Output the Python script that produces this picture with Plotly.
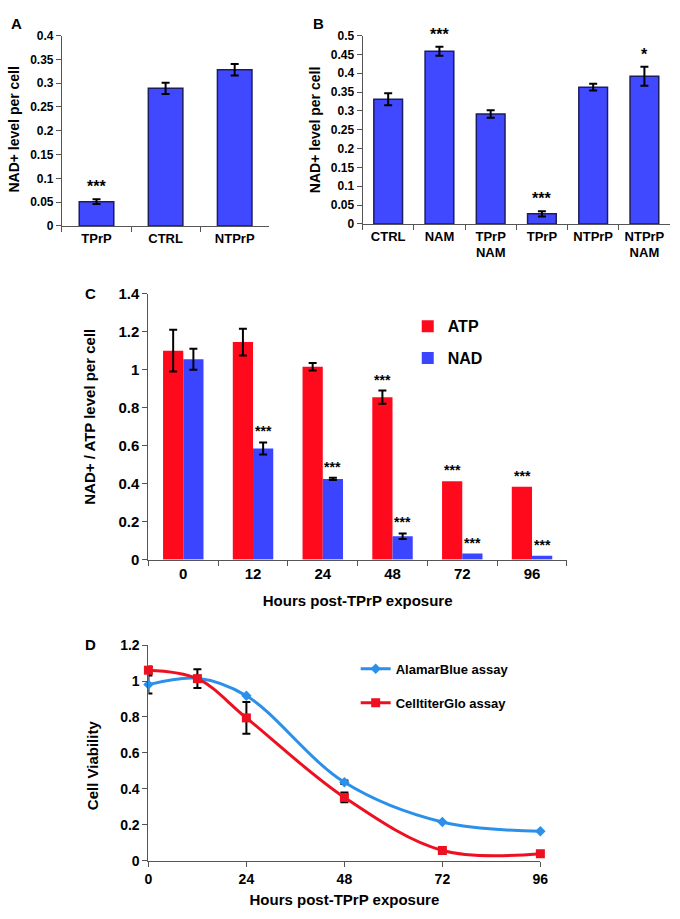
import plotly.graph_objects as go

W, H = 680, 919

# Panel A
a_cats = ["TPrP", "CTRL", "NTPrP"]
a_vals = [0.051, 0.289, 0.328]
a_errs = [0.005, 0.012, 0.012]
a_stars = ["***", "", ""]

# Panel B
b_cats = ["CTRL", "NAM", "TPrP<br>NAM", "TPrP", "NTPrP", "NTPrP<br>NAM"]
b_vals = [0.331, 0.458, 0.292, 0.027, 0.363, 0.392]
b_errs = [0.016, 0.012, 0.010, 0.007, 0.009, 0.025]
b_stars = ["", "***", "", "***", "", "*"]

# Panel C
c_cats = ["0", "12", "24", "48", "72", "96"]
c_atp = [1.10, 1.145, 1.015, 0.855, 0.413, 0.384]
c_atp_err = [0.11, 0.07, 0.02, 0.035, None, None]
c_nad = [1.055, 0.585, 0.425, 0.123, 0.032, 0.02]
c_nad_err = [0.055, 0.032, 0.006, 0.015, None, None]
c_atp_stars = ["", "", "", "***", "***", "***"]
c_nad_stars = ["", "***", "***", "***", "***", "***"]

# Panel D
d_hours = [0, 12, 24, 48, 72, 96]
d_ticks = [0, 24, 48, 72, 96]
d_alamar = [0.98, 1.015, 0.918, 0.437, 0.216, 0.165]
d_alamar_err = [0.05, None, None, 0.01, None, None]
d_ctg = [1.06, 1.013, 0.795, 0.353, 0.058, 0.04]
d_ctg_err = [0.02, 0.052, 0.088, 0.027, None, None]

FONT = "Liberation Sans, Arial, sans-serif"
BAR_BLUE = "#4049FF"
BAR_EDGE = "#1C1C60"
RED = "#FF0A1C"
BLUE_C = "#3B45FF"
LINE_BLUE = "#2A90EA"
LINE_RED = "#EC1020"
AX = "#555555"

def px_x(a, b):
    return [a / W, b / W]

def px_y(bottom, top):
    return [(H - bottom) / H, (H - top) / H]

def nz(v):
    return 0 if v is None else v

def errs(arr):
    # missing error values are left undrawn
    return ["NaN" if v is None else v for v in arr]

fig = go.Figure()

err_style = dict(type="data", color="black", thickness=2, width=4, visible=True)

# A
fig.add_trace(go.Bar(x=a_cats, y=a_vals, error_y=dict(array=a_errs, **err_style),
                     marker=dict(color=BAR_BLUE, line=dict(color=BAR_EDGE, width=1.5)),
                     width=0.5, xaxis="x", yaxis="y", showlegend=False))
# B
fig.add_trace(go.Bar(x=b_cats, y=b_vals, error_y=dict(array=b_errs, **err_style),
                     marker=dict(color=BAR_BLUE, line=dict(color=BAR_EDGE, width=1.5)),
                     width=0.56, xaxis="x2", yaxis="y2", showlegend=False))
# C
fig.add_trace(go.Bar(x=c_cats, y=c_atp, name="ATP",
                     error_y=dict(array=errs(c_atp_err), **err_style),
                     marker=dict(color=RED, line=dict(width=0)),
                     xaxis="x3", yaxis="y3", legend="legend", legendgroup="atp"))
fig.add_trace(go.Bar(x=c_cats, y=c_nad, name="NAD",
                     error_y=dict(array=errs(c_nad_err), **err_style),
                     marker=dict(color=BLUE_C, line=dict(width=0)),
                     xaxis="x3", yaxis="y3", legend="legend", legendgroup="nad"))
# D
fig.add_trace(go.Scatter(x=d_hours, y=d_alamar, name="AlamarBlue assay", mode="lines+markers",
                         line=dict(color=LINE_BLUE, width=3, shape="spline", smoothing=1),
                         marker=dict(symbol="diamond", size=8, color=LINE_BLUE),
                         error_y=dict(array=errs(d_alamar_err), color="black", thickness=2, width=4),
                         cliponaxis=False, xaxis="x4", yaxis="y4", legend="legend2",
                         legendgroup="ab"))
fig.add_trace(go.Scatter(x=d_hours, y=d_ctg, name="CelltiterGlo assay", mode="lines+markers",
                         line=dict(color=LINE_RED, width=3, shape="spline", smoothing=1),
                         marker=dict(symbol="square", size=9, color=LINE_RED),
                         error_y=dict(array=errs(d_ctg_err), color="black", thickness=2, width=4),
                         cliponaxis=False, xaxis="x4", yaxis="y4", legend="legend2",
                         legendgroup="ctg"))

ann = []
for i, (v, e, s) in enumerate(zip(a_vals, a_errs, a_stars)):
    if s:
        ann.append(dict(x=i, y=v + nz(e), xref="x", yref="y", text=s, showarrow=False,
                        yanchor="bottom", yshift=2, font=dict(size=16, color="black")))
for i, (v, e, s) in enumerate(zip(b_vals, b_errs, b_stars)):
    if s:
        ann.append(dict(x=i, y=v + nz(e), xref="x2", yref="y2", text=s, showarrow=False,
                        yanchor="bottom", yshift=2, font=dict(size=16, color="black")))
for i, (v, e, s) in enumerate(zip(c_atp, c_atp_err, c_atp_stars)):
    if s:
        ann.append(dict(x=i, y=v + nz(e), xref="x3", yref="y3", text=s, showarrow=False,
                        xshift=-10, yanchor="bottom", yshift=1, font=dict(size=14, color="black")))
for i, (v, e, s) in enumerate(zip(c_nad, c_nad_err, c_nad_stars)):
    if s:
        ann.append(dict(x=i, y=v + nz(e), xref="x3", yref="y3", text=s, showarrow=False,
                        xshift=10, yanchor="bottom", yshift=1, font=dict(size=14, color="black")))

for letter, x, y in [("A", 13, 15), ("B", 320, 15), ("C", 88, 290), ("D", 88, 647)]:
    ann.append(dict(x=x / W, y=(H - y) / H, xref="paper", yref="paper", text="<b>%s</b>" % letter,
                    showarrow=False, xanchor="center", yanchor="middle",
                    font=dict(size=15, color="black")))

# y-axis titles
for title, x, y, size in [("NAD+ level per cell", 10, 123, 14),
                          ("NAD+ level per cell", 316, 123, 14),
                          ("NAD+ / ATP level per cell", 87, 415, 15),
                          ("Cell Viability", 90, 770, 15)]:
    ann.append(dict(x=x / W, y=(H - y) / H, xref="paper", yref="paper", text="<b>%s</b>" % title,
                    textangle=-90, showarrow=False, xanchor="center", yanchor="middle",
                    font=dict(size=size, color="black")))

def yax(domain_y, rng, dtick, size, anchor):
    return dict(domain=domain_y, range=rng, dtick=dtick, tick0=0, showgrid=False, zeroline=False,
                showline=True, linecolor=AX, linewidth=1, ticks="outside", ticklen=5,
                tickcolor=AX, tickfont=dict(size=size, color="black"),
                fixedrange=True, anchor=anchor)

def xax(domain_x, size, **kw):
    d = dict(domain=domain_x, showgrid=False, zeroline=False, showline=True, linecolor=AX,
             linewidth=1, ticks="outside", ticklen=5, tickcolor=AX, tickangle=0,
             tickfont=dict(size=size, color="black"), fixedrange=True)
    d.update(kw)
    return d

fig.update_layout(
    width=W, height=H, margin=dict(l=0, r=0, t=0, b=0),
    paper_bgcolor="white", plot_bgcolor="white",
    font=dict(family=FONT, color="black", size=12, weight="bold"),
    barmode="group", bargap=0.42, bargroupgap=0,
    xaxis=xax(px_x(59, 270), 13, type="category", tickson="boundaries", anchor="y",
              range=[-0.5, len(a_cats) - 0.5]),
    yaxis=yax(px_y(221, 27), [0, 0.4], 0.05, 12, "x"),
    xaxis2=xax(px_x(365, 678), 13, type="category", tickson="boundaries", anchor="y2",
               range=[-0.5, len(b_cats) - 0.5]),
    yaxis2=yax(px_y(219, 27), [0, 0.5], 0.05, 12, "x2"),
    xaxis3=xax(px_x(147, 573), 15, type="category", tickson="boundaries", anchor="y3",
               range=[-0.5, len(c_cats) - 0.5],
               title=dict(text="<b>Hours post-TPrP exposure</b>", font=dict(size=15, color="black"), standoff=14)),
    yaxis3=yax(px_y(561, 290), [0, 1.4], 0.2, 15, "x3"),
    xaxis4=xax(px_x(147, 546), 14, range=[0, 96], tickvals=d_ticks, anchor="y4",
               title=dict(text="<b>Hours post-TPrP exposure</b>", font=dict(size=15, color="black"), standoff=8)),
    yaxis4=yax(px_y(868, 648), [0, 1.2], 0.2, 14, "x4"),
    legend=dict(x=411 / W, y=(H - 306) / H, xanchor="left", yanchor="top", bgcolor="rgba(0,0,0,0)",
                font=dict(size=16, color="black"), tracegroupgap=8, itemwidth=30),
    legend2=dict(x=358 / W, y=(H - 657) / H, xanchor="left", yanchor="top", bgcolor="rgba(0,0,0,0)",
                 font=dict(size=13, color="black"), tracegroupgap=14, itemwidth=30),
    annotations=ann,
)

fig.write_html("out.html", config={"displayModeBar": False, "responsive": False},
               post_script="document.body.style.margin='0px';")
